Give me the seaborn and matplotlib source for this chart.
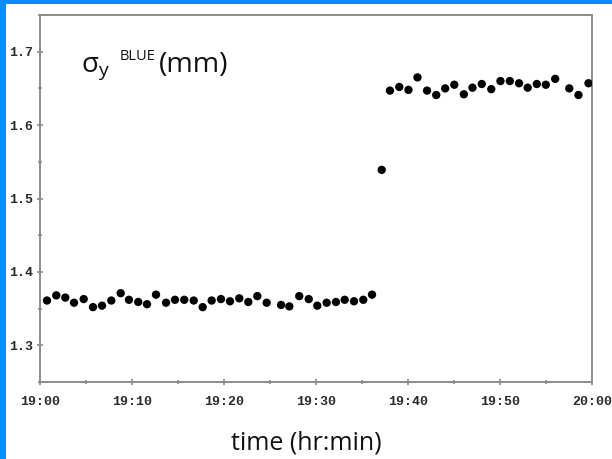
import matplotlib
matplotlib.use("Agg")
import matplotlib.pyplot as plt
from matplotlib.patches import Rectangle
from matplotlib.ticker import MultipleLocator
import numpy as np
import pandas as pd
import seaborn as sns

# Beam size samples: minutes after 19:00 and vertical sigma (mm)
minutes = [0.76, 1.77, 2.75, 3.70, 4.75, 5.76, 6.74, 7.75, 8.77, 9.67,
           10.68, 11.63, 12.61, 13.70, 14.67, 15.68, 16.71, 17.68, 18.66, 19.67,
           20.65, 21.66, 22.64, 23.62, 24.64, 26.20, 27.10, 28.18, 29.21, 30.14,
           31.16, 32.17, 33.12, 34.13, 35.14, 36.09, 37.14,
           38.04, 39.05, 40.05, 41.03, 42.07, 43.07, 44.04, 45.03, 46.07, 47.01,
           48.02, 49.05, 50.05, 51.07, 52.07, 53.01, 54.00, 54.98, 56.00, 57.53,
           58.53, 59.62]
sigma_y = [1.361, 1.368, 1.365, 1.358, 1.363, 1.352, 1.354, 1.361, 1.371, 1.362,
           1.359, 1.356, 1.369, 1.358, 1.362, 1.362, 1.361, 1.352, 1.361, 1.363,
           1.360, 1.364, 1.359, 1.367, 1.358, 1.355, 1.353, 1.367, 1.363, 1.354,
           1.358, 1.359, 1.362, 1.360, 1.362, 1.369, 1.539,
           1.647, 1.652, 1.648, 1.665, 1.647, 1.641, 1.650, 1.655, 1.642, 1.651,
           1.656, 1.649, 1.660, 1.660, 1.657, 1.651, 1.656, 1.655, 1.663, 1.650,
           1.641, 1.657]
x_ticks = [0, 10, 20, 30, 40, 50, 60]
x_tick_labels = ["19:00", "19:10", "19:20", "19:30", "19:40", "19:50", "20:00"]
y_ticks = [1.3, 1.4, 1.5, 1.6, 1.7]

df = pd.DataFrame({"minute": minutes, "sigma": sigma_y})

sns.set_style("white")
plt.rcParams["mathtext.fontset"] = "custom"
plt.rcParams["mathtext.rm"] = "Open Sans"
plt.rcParams["mathtext.it"] = "Open Sans"

W, H = 612, 459
fig = plt.figure(figsize=(W / 100, H / 100), dpi=100)
fig.patch.set_facecolor("white")

# blue frame strips along the left and top edges
blue = "#0a8cff"
fig.add_artist(Rectangle((0, 0), 6 / W, 1, transform=fig.transFigure,
                         color=blue, lw=0, zorder=0))
fig.add_artist(Rectangle((0, 1 - 3.5 / H), 1, 3.5 / H, transform=fig.transFigure,
                         color=blue, lw=0, zorder=0))

ax = fig.add_axes([40 / W, 1 - 382 / H, 552 / W, 367 / H])
sns.scatterplot(data=df, x="minute", y="sigma", ax=ax, color="black",
                s=36, edgecolor="none", linewidth=0, zorder=3)

ax.set_xlim(0, 60)
ax.set_ylim(1.25, 1.75)
ax.set_xticks(x_ticks)
ax.set_xticklabels(x_tick_labels)
ax.set_yticks(y_ticks)
ax.set_yticklabels([f"{v:.1f}" for v in y_ticks])
ax.xaxis.set_minor_locator(MultipleLocator(5))
ax.yaxis.set_minor_locator(MultipleLocator(0.05))
ax.set_xlabel("")
ax.set_ylabel("")

for sp in ax.spines.values():
    sp.set_color("#8c8c8c")
    sp.set_linewidth(1.4)

for lab in ax.get_xticklabels() + ax.get_yticklabels():
    lab.set_fontfamily("Liberation Mono")
    lab.set_fontweight("bold")
    lab.set_fontsize(9.5)
    lab.set_color("#2a2a2a")

ax.tick_params(axis="both", which="major", direction="inout", length=4,
               width=1.2, color="#8c8c8c", left=True, bottom=True)
ax.tick_params(axis="both", which="minor", direction="inout", length=3,
               width=1.2, color="#8c8c8c", left=True, bottom=True)
ax.tick_params(axis="x", which="major", pad=8)
ax.tick_params(axis="y", which="major", pad=3)


def px_text(x, y, s, size, **kw):
    fig.text(x / W, 1 - y / H, s, fontsize=size, family="Open Sans",
             va="baseline", ha="left", color="#111111", **kw)


# panel label: sigma_y^BLUE (mm)
px_text(81, 72, r"σ$_{\mathregular{y}}$", 20)
px_text(120, 60, "BLUE", 10.5)
px_text(159, 72, "(mm)", 20.5)

fig.text(306 / W, 1 - 449 / H, "time (hr:min)", fontsize=18, family="Open Sans",
         ha="center", va="baseline", color="#111111")

fig.savefig("out.png", dpi=100, facecolor="white")
